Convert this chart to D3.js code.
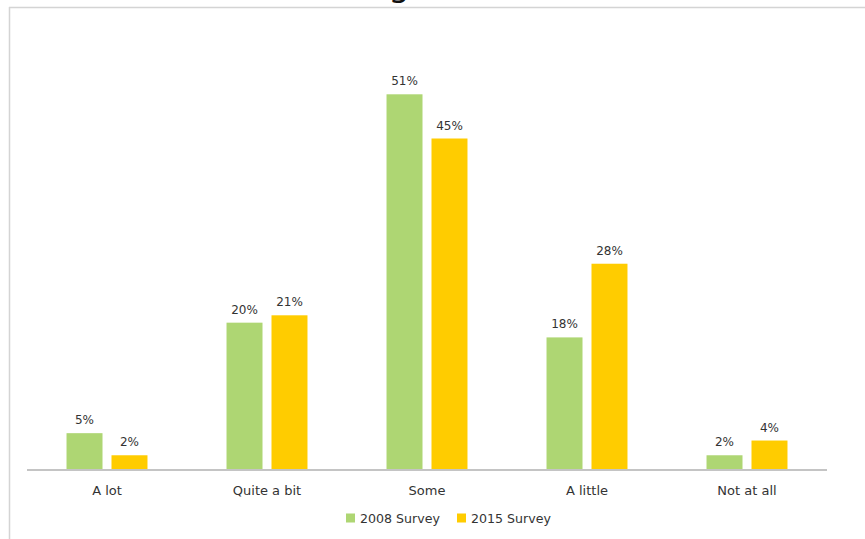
<!DOCTYPE html>
<html>
<head>
<meta charset="utf-8">
<script src="https://cdn.jsdelivr.net/npm/d3@7"></script>
<style>
  html, body { margin: 0; padding: 0; background: #fff; }
  svg { display: block; font-family: "DejaVu Sans", Verdana, sans-serif; }
</style>
</head>
<body>
<svg id="chart" width="865" height="539"></svg>
<script>
// Survey answers, share of respondents per answer
const categories = ["A lot", "Quite a bit", "Some", "A little", "Not at all"];
const seriesNames = ["2008 Survey", "2015 Survey"];
const survey2008 = [5, 20, 51, 18, 2];
const survey2015 = [2, 21, 45, 28, 4];
const seriesColors = ["#aed673", "#ffcc00"];

const seriesValues = [survey2008, survey2015];
const rows = categories.map((c, i) => ({
  category: c,
  values: seriesNames.map((s, j) => ({ series: s, value: seriesValues[j][i], color: seriesColors[j] }))
}));

const svg = d3.select("#chart");
const W = 865, H = 539;

// Frame of the chart area
svg.append("line").attr("x1", 9.5).attr("x2", 9.5).attr("y1", 7).attr("y2", H)
  .attr("stroke", "#d4d4d4").attr("stroke-width", 1.5);
svg.append("line").attr("x1", 9).attr("x2", W).attr("y1", 7.5).attr("y2", 7.5)
  .attr("stroke", "#d4d4d4").attr("stroke-width", 1.5);

// Title sits above the visible frame; only its descender reaches the page
svg.append("text").attr("x", 399).attr("y", -4)
  .attr("text-anchor", "middle").attr("font-size", 34).attr("fill", "#111")
  .text("g");

const x0 = d3.scaleBand().domain(categories).range([27, 827])
  .paddingInner(0.494).paddingOuter(0.247);
const x1 = d3.scaleBand().domain(seriesNames).range([0, x0.bandwidth()])
  .paddingInner(0.2).paddingOuter(0);
const y = d3.scaleLinear().domain([0, 60]).range([470, 28]);

const groups = svg.append("g").selectAll("g").data(rows).join("g")
  .attr("transform", d => `translate(${x0(d.category)},0)`);

groups.selectAll("rect").data(d => d.values).join("rect")
  .attr("x", d => x1(d.series))
  .attr("y", d => y(d.value))
  .attr("width", x1.bandwidth())
  .attr("height", d => y(0) - y(d.value))
  .attr("fill", d => d.color);

groups.selectAll("text.val").data(d => d.values).join("text")
  .attr("class", "val")
  .attr("x", d => x1(d.series) + x1.bandwidth() / 2)
  .attr("y", d => y(d.value) - 9)
  .attr("text-anchor", "middle").attr("font-size", 12).attr("fill", "#333")
  .text(d => d.value + "%");

// Category axis
const xAxis = svg.append("g").attr("transform", `translate(0,${y(0)})`)
  .call(d3.axisBottom(x0).tickSize(0).tickPadding(0));
xAxis.select(".domain").attr("stroke", "#c4c4c4").attr("stroke-width", 2)
  .attr("d", "M27,0H827");
xAxis.selectAll(".tick text").attr("font-family", "DejaVu Sans, Verdana, sans-serif")
  .attr("font-size", 13).attr("fill", "#333").attr("dy", null).attr("y", 25);

// Legend
const legend = svg.append("g").attr("transform", "translate(346,513)");
const legendOffsets = [0, 111];
seriesNames.forEach((s, i) => {
  const g = legend.append("g").attr("transform", `translate(${legendOffsets[i]},0)`);
  g.append("rect").attr("width", 9).attr("height", 9).attr("y", 0.5).attr("fill", seriesColors[i]);
  g.append("text").attr("x", 14).attr("y", 10).attr("font-size", 12.6).attr("fill", "#333").text(s);
});
</script>
</body>
</html>
